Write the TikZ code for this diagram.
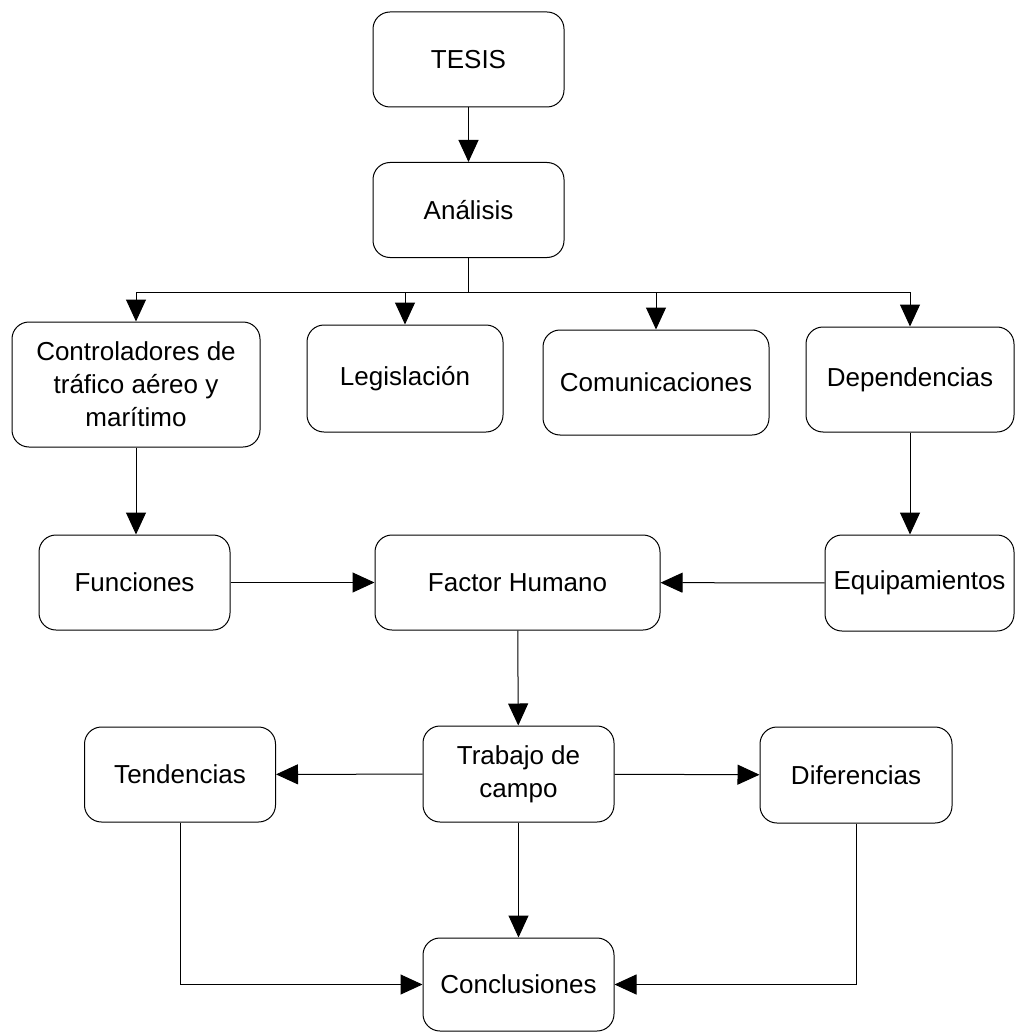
\documentclass[tikz,border=0pt]{standalone}
\usepackage{fontspec}
\setmainfont{Liberation Sans}
\usetikzlibrary{arrows.meta}

\begin{document}
\begin{tikzpicture}[x=0.5pt,y=-0.5pt,
	line width=0.5pt,
	arr/.style={-{Triangle[length=11pt,width=10pt]}},
	box/.style={draw,rounded corners=8.5pt,align=center,inner sep=2pt,
		minimum width=95.5pt,minimum height=47.5pt,
		font=\fontsize{13}{16.5}\selectfont}]
	\useasboundingbox (0,0) rectangle (1015,1032);

	\node[box] (T) at (468.5,59.5) {TESIS};
	\node[box] (A) at (468.5,210) {Análisis};

	\node[box,minimum width=124pt,minimum height=62.5pt] (Ctl) at (136,384.5) {Controladores de\\tráfico aéreo y\\marítimo};
	\node[box,minimum width=98pt,minimum height=53.5pt] (L) at (405,378.5) {Legislación};
	\node[box,minimum width=113pt,minimum height=52.5pt] (Com) at (656,382.5) {Comunicaciones};
	\node[box,minimum width=104pt,minimum height=52.5pt] (Dep) at (910,379.5) {Dependencias};

	\node[box] (F) at (134.5,582.5) {Funciones};
	\node[box,minimum width=142.5pt] (H) at (517.5,582.5) {Factor Humano};
	\node[box,minimum width=94.5pt,minimum height=48pt] (E) at (919.5,583) {Equipamientos};

	\node[box,minimum height=48pt] (W) at (518.5,774) {Trabajo de\\campo};
	\node[box] (Tn) at (180,774.5) {Tendencias};
	\node[box,minimum width=96pt,minimum height=48pt] (Dif) at (856,775) {Diferencias};

	\node[box,minimum height=46.5pt] (Con) at (518.5,984.5) {Conclusiones};

	\coordinate (bus) at (468.5,292);

	\draw[arr] (T) to (A);
	\draw (A.south) to (bus);
	\foreach \n in {Ctl,L,Com,Dep}
		\draw[arr] (bus) -| (\n.north);

	\draw[arr] (Ctl.south) to (Ctl.south |- F.north);
	\draw[arr] (Dep.south) to (Dep.south |- E.north);
	\draw[arr] (F) to (H);
	\draw[arr] (E) to (H);

	\draw[arr] (H) to (W);
	\draw[arr] (W) to (Tn);
	\draw[arr] (W) to (Dif);
	\draw[arr] (W) to (Con);
	\draw[arr] (Tn.south) |- (Con.west);
	\draw[arr] (Dif.south) |- (Con.east);
\end{tikzpicture}
\end{document}
